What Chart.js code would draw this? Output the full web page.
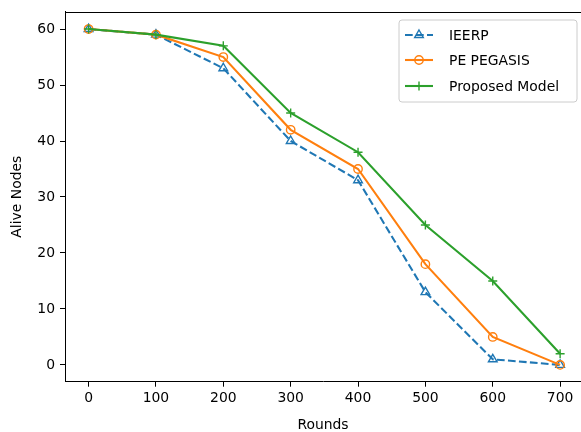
<!DOCTYPE html>
<html>
<head>
<meta charset="utf-8">
<script src="https://cdn.jsdelivr.net/npm/chart.js@4.4.1/dist/chart.umd.min.js"></script>
<style>
html,body{margin:0;padding:0;background:#fff;}
#wrap{width:581px;height:432px;position:relative;}
</style>
</head>
<body>
<div id="wrap"><canvas id="c"></canvas></div>
<script>
const rounds = [0, 100, 200, 300, 400, 500, 600, 700];
const ieerp = [60, 59, 53, 40, 33, 13, 1, 0];
const pegasis = [60, 59, 55, 42, 35, 18, 5, 0];
const proposed = [60, 59, 57, 45, 38, 25, 15, 2];
const xTicks = [0, 100, 200, 300, 400, 500, 600, 700];
const yTicks = [0, 10, 20, 30, 40, 50, 60];
const seriesNames = ['IEERP', 'PE PEGASIS', 'Proposed Model'];

const FONT = "'DejaVu Sans', sans-serif";
const toXY = arr => rounds.map((r, i) => ({x: r, y: arr[i]}));

const datasets = [
  {label: seriesNames[0], data: toXY(ieerp), borderColor: '#1f77b4', borderWidth: 2.08,
   borderDash: [7.7, 3.3], pointStyle: 'triangle', pointRadius: 5, pointBorderWidth: 1.4,
   pointBorderColor: '#1f77b4', pointBackgroundColor: 'rgba(0,0,0,0)', order: 3, tension: 0},
  {label: seriesNames[1], data: toXY(pegasis), borderColor: '#ff7f0e', borderWidth: 2.08,
   pointStyle: 'circle', pointRadius: 4.2, pointBorderWidth: 1.4,
   pointBorderColor: '#ff7f0e', pointBackgroundColor: 'rgba(0,0,0,0)', order: 2, tension: 0},
  {label: seriesNames[2], data: toXY(proposed), borderColor: '#2ca02c', borderWidth: 2.08,
   pointStyle: 'cross', pointRadius: 4.5, pointBorderWidth: 1.4,
   pointBorderColor: '#2ca02c', pointBackgroundColor: 'rgba(0,0,0,0)', order: 1, tension: 0}
];

const frame = {
  id: 'frame',
  afterDatasetsDraw(chart) {
    const {ctx, chartArea: a} = chart;
    ctx.save();
    ctx.strokeStyle = '#000';
    ctx.lineWidth = 1;
    ctx.beginPath();
    ctx.moveTo(a.left, Math.round(a.top) + 0.5);
    ctx.lineTo(a.right, Math.round(a.top) + 0.5);
    ctx.stroke();
    ctx.restore();
  }
};

const legendBox = {
  id: 'legendBox',
  afterDraw(chart) {
    const ctx = chart.ctx;
    const bx = 399, by = 20, bw = 178, bh = 82, r = 3;
    ctx.save();
    ctx.beginPath();
    ctx.moveTo(bx + r, by);
    ctx.lineTo(bx + bw - r, by); ctx.arcTo(bx + bw, by, bx + bw, by + r, r);
    ctx.lineTo(bx + bw, by + bh - r); ctx.arcTo(bx + bw, by + bh, bx + bw - r, by + bh, r);
    ctx.lineTo(bx + r, by + bh); ctx.arcTo(bx, by + bh, bx, by + bh - r, r);
    ctx.lineTo(bx, by + r); ctx.arcTo(bx, by, bx + r, by, r);
    ctx.closePath();
    ctx.fillStyle = 'rgba(255,255,255,0.8)';
    ctx.fill();
    ctx.strokeStyle = '#cccccc';
    ctx.lineWidth = 1;
    ctx.stroke();
    const rows = [35, 60, 86];
    datasets.forEach((ds, i) => {
      const y = rows[i];
      ctx.save();
      ctx.strokeStyle = ds.borderColor;
      ctx.lineWidth = ds.borderWidth;
      ctx.setLineDash(ds.borderDash || []);
      ctx.beginPath();
      ctx.moveTo(405, y); ctx.lineTo(433, y);
      ctx.stroke();
      ctx.restore();
      ctx.save();
      if (Chart.helpers && Chart.helpers.drawPoint) {
        ctx.strokeStyle = ds.pointBorderColor;
        ctx.fillStyle = ds.pointBackgroundColor;
        ctx.lineWidth = ds.pointBorderWidth;
        Chart.helpers.drawPoint(ctx, {pointStyle: ds.pointStyle, radius: ds.pointRadius, borderWidth: ds.pointBorderWidth, rotation: 0}, 419, y);
      }
      ctx.restore();
      ctx.fillStyle = '#000';
      ctx.font = '13.9px ' + FONT;
      ctx.textBaseline = 'middle';
      ctx.textAlign = 'left';
      ctx.fillText(ds.label, 449, y + 1);
    });
    ctx.restore();
  }
};

new Chart(document.getElementById('c'), {
  type: 'line',
  data: {datasets},
  options: {
    responsive: true,
    maintainAspectRatio: false,
    animation: false,
    devicePixelRatio: 1,
    layout: {autoPadding: false, padding: {top: 11.7, left: 0, right: 0, bottom: 0}},
    plugins: {legend: {display: false}, tooltip: {enabled: false}, title: {display: false}},
    scales: {
      x: {
        type: 'linear', min: -35, max: 731,
        afterBuildTicks: s => { s.ticks = xTicks.map(v => ({value: v})); },
        afterFit: s => { s.height = 50.3; s.paddingLeft = 0; s.paddingRight = 0; },
        grid: {display: true, drawOnChartArea: false, drawTicks: true, tickLength: 5, color: '#000', tickWidth: 1},
        border: {display: true, color: '#000', width: 1},
        ticks: {color: '#000', font: {family: FONT, size: 13.9}, padding: 3, maxRotation: 0, autoSkip: false},
        title: {display: true, text: 'Rounds', color: '#000', font: {family: FONT, size: 13.9, lineHeight: 1}, padding: 0}
      },
      y: {
        type: 'linear', min: -3, max: 63.1,
        afterBuildTicks: s => { s.ticks = yTicks.map(v => ({value: v})); },
        afterFit: s => { s.width = 65; s.paddingTop = 0; s.paddingBottom = 0; },
        grid: {display: true, drawOnChartArea: false, drawTicks: true, tickLength: 5, color: '#000', tickWidth: 1},
        border: {display: true, color: '#000', width: 1},
        ticks: {color: '#000', font: {family: FONT, size: 13.9}, padding: 5, autoSkip: false},
        title: {display: true, text: 'Alive Nodes', color: '#000', font: {family: FONT, size: 13.9, lineHeight: 1}, padding: {top: 10, bottom: 0}}
      }
    }
  },
  plugins: [frame, legendBox]
});
</script>
</body>
</html>
